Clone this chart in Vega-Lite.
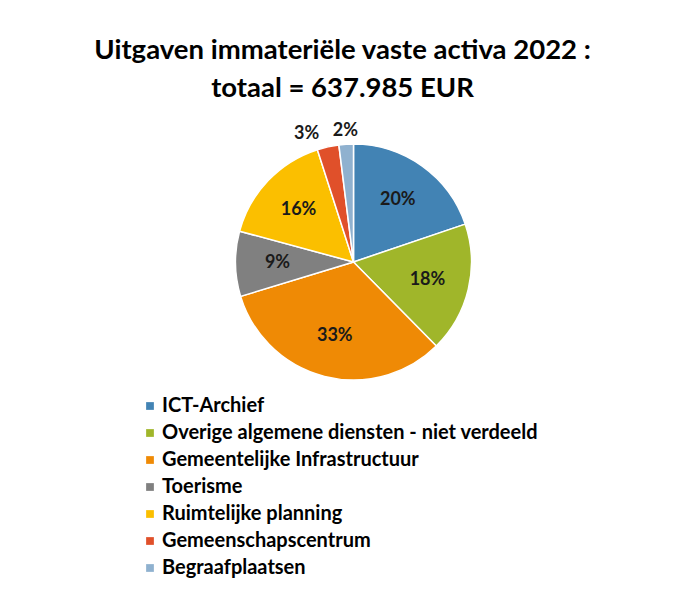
{
  "$schema": "https://vega.github.io/schema/vega-lite/v6.json",
  "width": 659,
  "height": 264,
  "autosize": "none",
  "padding": {"left": 24, "top": 130, "right": 0, "bottom": 211},
  "background": "white",
  "config": {"view": {"stroke": null}},
  "title": {
    "text": ["Uitgaven immateriële vaste activa 2022 :", "totaal = 637.985 EUR"],
    "font": "Lato",
    "fontSize": 27.5,
    "fontWeight": "bold",
    "color": "#000000",
    "anchor": "middle",
    "frame": "group",
    "dx": -11,
    "offset": 20,
    "lineHeight": 38
  },
  "data": {
    "values": [
      {"category": "ICT-Archief", "share": 0.20, "rank": 1},
      {"category": "Overige algemene diensten - niet verdeeld", "share": 0.18, "rank": 2},
      {"category": "Gemeentelijke Infrastructuur", "share": 0.33, "rank": 3},
      {"category": "Toerisme", "share": 0.09, "rank": 4},
      {"category": "Ruimtelijke planning", "share": 0.16, "rank": 5},
      {"category": "Gemeenschapscentrum", "share": 0.03, "rank": 6},
      {"category": "Begraafplaatsen", "share": 0.02, "rank": 7}
    ]
  },
  "encoding": {
    "theta": {"field": "share", "type": "quantitative", "stack": true},
    "order": {"field": "rank", "type": "quantitative"}
  },
  "layer": [
    {
      "mark": {"type": "arc", "outerRadius": 118, "stroke": "white", "strokeWidth": 1.5},
      "encoding": {
        "color": {
          "field": "category",
          "type": "nominal",
          "scale": {
            "domain": ["ICT-Archief", "Overige algemene diensten - niet verdeeld", "Gemeentelijke Infrastructuur", "Toerisme", "Ruimtelijke planning", "Gemeenschapscentrum", "Begraafplaatsen"],
            "range": ["#4283b4", "#a0b62a", "#ef8a05", "#808080", "#fbbf00", "#e0502a", "#8fb1cf"]
          },
          "legend": {
            "orient": "none",
            "legendX": 116,
            "legendY": 266,
            "title": null,
            "labelFont": "Lato",
            "labelFontSize": 20,
            "labelFontWeight": "bold",
            "labelColor": "#000000",
            "symbolType": "square",
            "symbolSize": 60,
            "symbolStrokeWidth": 0,
            "rowPadding": 7,
            "labelLimit": 500,
            "labelOffset": 2
          }
        }
      }
    },
    {
      "mark": {"type": "text", "radius": 76, "font": "Lato", "fontSize": 18, "fontWeight": "bold", "color": "#1a1a1a"},
      "encoding": {
        "text": {"field": "share", "type": "quantitative", "format": ".0%", "condition": {"test": "datum.share < 0.05", "value": ""}}
      }
    },
    {
      "mark": {"type": "text", "radius": 131, "align": "right", "dx": -6, "font": "Lato", "fontSize": 18, "fontWeight": "bold", "color": "#1a1a1a"},
      "encoding": {
        "text": {"field": "share", "type": "quantitative", "format": ".0%", "condition": {"test": "datum.rank != 6", "value": ""}}
      }
    },
    {
      "mark": {"type": "text", "radius": 131, "align": "center", "font": "Lato", "fontSize": 18, "fontWeight": "bold", "color": "#1a1a1a"},
      "encoding": {
        "text": {"field": "share", "type": "quantitative", "format": ".0%", "condition": {"test": "datum.rank != 7", "value": ""}}
      }
    }
  ]
}
